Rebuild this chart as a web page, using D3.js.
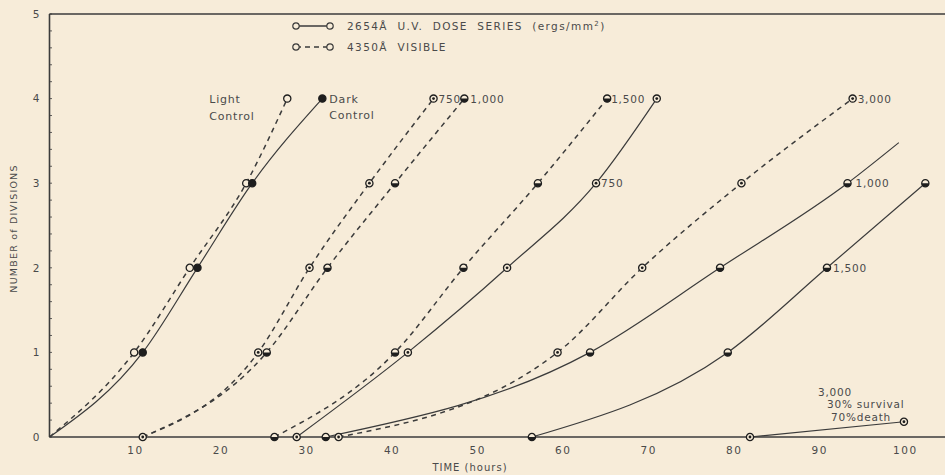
<!DOCTYPE html>
<html>
<head>
<meta charset="utf-8">
<script src="https://cdn.jsdelivr.net/npm/d3@7"></script>
<style>
  html, body { margin: 0; padding: 0; background: #f7ecd9; }
  svg text { font-family: "DejaVu Sans", sans-serif; fill: #4a4a4a; }
</style>
</head>
<body>
<div id="chart"></div>
<script>
// values: time in hours, number of divisions
const lightTime  = [0, 9.9, 16.4, 23.0, 27.8];
const lightDiv   = [0, 1, 2, 3, 4];
const darkTime   = [0, 10.9, 17.3, 23.7, 31.9];
const darkDiv    = [0, 1, 2, 3, 4];
const vis750Time  = [10.9, 24.4, 30.4, 37.4, 44.9];
const vis750Div   = [0, 1, 2, 3, 4];
const vis1000Time = [10.9, 25.4, 32.5, 40.4, 48.5];
const vis1000Div  = [0, 1, 2, 3, 4];
const vis1500Time = [26.3, 40.4, 48.4, 57.1, 65.2];
const vis1500Div  = [0, 1, 2, 3, 4];
const vis3000Time = [33.8, 59.4, 69.3, 80.9, 93.9];
const vis3000Div  = [0, 1, 2, 3, 4];
const uv750Time   = [28.9, 41.9, 53.5, 63.9, 71.0];
const uv750Div    = [0, 1, 2, 3, 4];
const uv1000Time  = [32.3, 63.2, 78.4, 93.3, 99.3];
const uv1000Div   = [0, 1, 2, 3, 3.48];
const uv1500Time  = [56.4, 79.3, 90.9, 102.4];
const uv1500Div   = [0, 1, 2, 3];
const uv3000Time  = [81.9, 99.9];
const uv3000Div   = [0, 0.18];

const xTicks = [10, 20, 30, 40, 50, 60, 70, 80, 90, 100];
const yTicks = [0, 1, 2, 3, 4, 5];

const width = 945, height = 475;
const margin = {top: 14, right: 0, bottom: 38, left: 49.5};

const x = d3.scaleLinear().domain([0, 104.7]).range([margin.left, width - margin.right]);
const y = d3.scaleLinear().domain([0, 5]).range([height - margin.bottom, margin.top]);

const zip = (t, v) => t.map((d, i) => ({t: d, v: v[i]}));

// name, points, dashed?, marker style, indices drawn without marker
const series = [
  {name: 'light',   pts: zip(lightTime, lightDiv),     dash: true,  mark: 'open',   skip: [0]},
  {name: 'dark',    pts: zip(darkTime, darkDiv),       dash: false, mark: 'filled', skip: [0]},
  {name: 'vis750',  pts: zip(vis750Time, vis750Div),   dash: true,  mark: 'dot',    skip: []},
  {name: 'vis1000', pts: zip(vis1000Time, vis1000Div), dash: true,  mark: 'half',   skip: [0]},
  {name: 'vis1500', pts: zip(vis1500Time, vis1500Div), dash: true,  mark: 'half',   skip: []},
  {name: 'vis3000', pts: zip(vis3000Time, vis3000Div), dash: true,  mark: 'dot',    skip: []},
  {name: 'uv750',   pts: zip(uv750Time, uv750Div),     dash: false, mark: 'dot',    skip: []},
  {name: 'uv1000',  pts: zip(uv1000Time, uv1000Div),   dash: false, mark: 'half',   skip: [4]},
  {name: 'uv1500',  pts: zip(uv1500Time, uv1500Div),   dash: false, mark: 'half',   skip: []},
  {name: 'uv3000',  pts: zip(uv3000Time, uv3000Div),   dash: false, mark: 'dot',    skip: []}
];

const ink = '#3b3b3b';

const svg = d3.select('#chart').append('svg')
  .attr('width', width)
  .attr('height', height);

// frame: left, top and bottom lines (right side runs off the page)
svg.append('line')
  .attr('x1', x(0)).attr('x2', x(0))
  .attr('y1', y(5)).attr('y2', y(0))
  .style('stroke', ink).style('stroke-width', 1.6);
svg.append('line')
  .attr('x1', x(0)).attr('x2', width)
  .attr('y1', y(5)).attr('y2', y(5))
  .style('stroke', ink).style('stroke-width', 1.4);
svg.append('line')
  .attr('x1', x(0)).attr('x2', width)
  .attr('y1', y(0)).attr('y2', y(0))
  .style('stroke', ink).style('stroke-width', 1.6);

// little ticks every 0.2 division on the left axis
svg.append('g')
  .selectAll('line')
  .data(d3.range(0, 5.01, 0.2))
  .enter()
    .append('line')
    .attr('x1', x(0)).attr('x2', x(0) + 2.5)
    .attr('y1', d => y(d)).attr('y2', d => y(d))
    .style('stroke', ink).style('stroke-width', 0.8);

// tick labels
const xAxis = d3.axisBottom(x).tickValues(xTicks).tickSize(0).tickPadding(10);
const gx = svg.append('g')
  .attr('transform', `translate(0,${y(0)})`)
  .call(xAxis);
gx.select('.domain').remove();
gx.selectAll('text')
  .style('font-size', '10.5px').style('letter-spacing', '1.5px')
  .style('fill', '#4a4a4a').style('font-family', '"DejaVu Sans", sans-serif');

const yAxis = d3.axisLeft(y).tickValues(yTicks).tickFormat(d3.format('d')).tickSize(0).tickPadding(10);
const gy = svg.append('g')
  .attr('transform', `translate(${x(0)},0)`)
  .call(yAxis);
gy.select('.domain').remove();
gy.selectAll('text')
  .style('font-size', '10.5px')
  .style('fill', '#4a4a4a').style('font-family', '"DejaVu Sans", sans-serif');

// axis titles
svg.append('text')
  .attr('x', 470).attr('y', 471)
  .attr('text-anchor', 'middle')
  .style('font-size', '10px').style('letter-spacing', '1px')
  .text('TIME (hours)');

svg.append('text')
  .attr('transform', `translate(17,${(y(0) + y(5)) / 2 + 3}) rotate(-90)`)
  .attr('text-anchor', 'middle')
  .style('font-size', '9.5px').style('letter-spacing', '1.2px')
  .text('NUMBER of DIVISIONS');

// curves
const line = d3.line()
  .x(d => x(d.t))
  .y(d => y(d.v))
  .curve(d3.curveMonotoneX);

svg.append('g')
  .selectAll('path')
  .data(series)
  .enter()
    .append('path')
    .attr('d', d => line(d.pts))
    .style('fill', 'none')
    .style('stroke', ink)
    .style('stroke-width', d => d.dash ? 1.5 : 1.2)
    .style('stroke-dasharray', d => d.dash ? '5,4.5' : null);

// markers
const r = 3.6;
const markers = [];
series.forEach(s => s.pts.forEach((p, i) => {
  if (!s.skip.includes(i)) markers.push({t: p.t, v: p.v, mark: s.mark});
}));

const mg = svg.append('g').selectAll('g')
  .data(markers)
  .enter()
    .append('g')
    .attr('transform', d => `translate(${x(d.t)},${y(d.v)})`);

mg.append('circle')
  .attr('r', r)
  .style('fill', d => d.mark === 'filled' ? '#1e1e1e' : '#f7ecd9')
  .style('stroke', '#1e1e1e')
  .style('stroke-width', 1.3);

mg.filter(d => d.mark === 'half')
  .append('path')
  .attr('d', d3.arc()({innerRadius: 0, outerRadius: r, startAngle: Math.PI / 2, endAngle: Math.PI * 1.5}))
  .style('fill', '#1e1e1e');

mg.filter(d => d.mark === 'dot')
  .append('circle')
  .attr('r', 1.4)
  .style('fill', '#1e1e1e');

// curve labels, placed from the data end points
const lab = (t, v, dx, dy, txt, size) => svg.append('text')
  .attr('x', x(t) + dx).attr('y', y(v) + dy)
  .style('font-size', (size || 10.5) + 'px')
  .style('letter-spacing', '0.8px')
  .text(txt);

lab(lightTime[4], 4, -78, 4, 'Light', 11);
lab(lightTime[4], 4, -78, 21, 'Control', 11);
lab(darkTime[4], 4, 7, 4, 'Dark', 11);
lab(darkTime[4], 4, 7, 20, 'Control', 11);
lab(vis750Time[4], 4, 5, 4, '750');
lab(vis1000Time[4], 4, 6, 4, '1,000');
lab(vis1500Time[4], 4, 4, 4, '1,500');
lab(uv750Time[3], 3, 5, 4, '750');
lab(vis3000Time[4], 4, 5, 4, '3,000');
lab(uv1000Time[3], 3, 8, 4, '1,000');
lab(uv1500Time[2], 2, 6, 4, '1,500');
lab(uv3000Time[1], uv3000Div[1], -86, -26, '3,000');
lab(uv3000Time[1], uv3000Div[1], -77, -14, '30% survival');
lab(uv3000Time[1], uv3000Div[1], -73, -1, '70%death');

// legend
const legend = svg.append('g').attr('transform', 'translate(296,26)');
[{dash: false, txt: '2654Å  U.V.  DOSE  SERIES  (ergs/mm'}, {dash: true, txt: '4350Å  VISIBLE'}]
  .forEach((d, i) => {
    const g = legend.append('g').attr('transform', `translate(0,${i * 21})`);
    g.append('line')
      .attr('x1', 0).attr('x2', 34)
      .style('stroke', ink).style('stroke-width', 1.3)
      .style('stroke-dasharray', d.dash ? '5,4' : null);
    g.selectAll('circle').data([0, 34]).enter()
      .append('circle')
      .attr('cx', c => c).attr('r', 3.2)
      .style('fill', '#f7ecd9').style('stroke', ink).style('stroke-width', 1.2);
    const t = g.append('text')
      .attr('x', 51).attr('y', 4)
      .style('font-size', '10.5px').style('letter-spacing', '1.4px')
      .style('white-space', 'pre')
      .text(d.txt);
    if (!d.dash) {
      t.append('tspan').attr('dy', -4).style('font-size', '7px').text('2');
      t.append('tspan').attr('dy', 4).text(')');
    }
  });
</script>
</body>
</html>
